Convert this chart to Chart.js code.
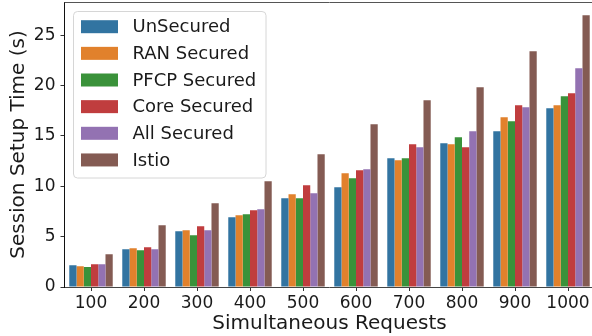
<!DOCTYPE html>
<html>
<head>
<meta charset="utf-8">
<script src="https://cdn.jsdelivr.net/npm/chart.js@4"></script>
<style>
  html, body { margin: 0; padding: 0; background: #fff; overflow: hidden; width: 592px; height: 336px; }
  #wrap { width: 600px; height: 336px; }
</style>
</head>
<body>
<div id="wrap"><canvas id="c" width="600" height="336"></canvas></div>
<script>
const categories = ['100', '200', '300', '400', '500', '600', '700', '800', '900', '1000'];
const unsecured   = [2.15, 3.74, 5.53, 6.92, 8.81, 9.90, 12.78, 14.27, 15.46, 17.74];
const ranSecured  = [2.05, 3.84, 5.63, 7.12, 9.20, 11.29, 12.58, 14.17, 16.85, 18.04];
const pfcpSecured = [1.99, 3.64, 5.13, 7.22, 8.81, 10.80, 12.78, 14.87, 16.46, 18.94];
const coreSecured = [2.25, 3.94, 6.03, 7.62, 10.10, 11.60, 14.17, 13.87, 18.04, 19.23];
const allSecured  = [2.25, 3.74, 5.63, 7.72, 9.30, 11.69, 13.87, 15.46, 17.84, 21.71];
const istio       = [3.25, 6.13, 8.31, 10.50, 13.18, 16.16, 18.54, 19.83, 23.41, 26.98];
const seriesNames = ['UnSecured', 'RAN Secured', 'PFCP Secured', 'Core Secured', 'All Secured', 'Istio'];
const yTicks = [0, 5, 10, 15, 20, 25];

const colors = ['#3274a1', '#e1812c', '#3a923a', '#c03d3e', '#9372b2', '#845b53'];
const seriesData = [unsecured, ranSecured, pfcpSecured, coreSecured, allSecured, istio];
const FONT = "'DejaVu Sans', sans-serif";

const datasets = seriesNames.map((name, i) => ({
  label: name,
  data: seriesData[i],
  backgroundColor: colors[i],
  borderWidth: 0,
  categoryPercentage: 0.82,
  barPercentage: 1.0
}));

const framePlugin = {
  id: 'frame',
  afterDraw(chart) {
    const ctx = chart.ctx;
    const a = chart.chartArea;
    ctx.save();
    // top spine
    ctx.strokeStyle = '#555';
    ctx.lineWidth = 1;
    ctx.beginPath();
    ctx.moveTo(a.left, a.top + 0.5);
    ctx.lineTo(a.right, a.top + 0.5);
    ctx.stroke();
    // legend frame
    const lx = 73.5, ly = 11.5, lw = 192.5, lh = 166.5, r = 4;
    ctx.beginPath();
    ctx.moveTo(lx + r, ly);
    ctx.lineTo(lx + lw - r, ly);
    ctx.quadraticCurveTo(lx + lw, ly, lx + lw, ly + r);
    ctx.lineTo(lx + lw, ly + lh - r);
    ctx.quadraticCurveTo(lx + lw, ly + lh, lx + lw - r, ly + lh);
    ctx.lineTo(lx + r, ly + lh);
    ctx.quadraticCurveTo(lx, ly + lh, lx, ly + lh - r);
    ctx.lineTo(lx, ly + r);
    ctx.quadraticCurveTo(lx, ly, lx + r, ly);
    ctx.closePath();
    ctx.fillStyle = 'rgba(255,255,255,0.8)';
    ctx.fill();
    ctx.strokeStyle = '#d6d6d6';
    ctx.stroke();
    // legend items
    ctx.font = '18px ' + FONT;
    ctx.textBaseline = 'middle';
    ctx.textAlign = 'left';
    chart.data.datasets.forEach((ds, i) => {
      const cy = 26.7 + i * 26.65;
      ctx.fillStyle = ds.backgroundColor;
      ctx.fillRect(81, cy - 6.5, 37, 13);
      ctx.fillStyle = '#1a1a1a';
      ctx.fillText(ds.label, 132.5, cy + 1);
    });
    ctx.restore();
  }
};

function noPad(scale) {
  scale.paddingTop = 0; scale.paddingBottom = 0;
  scale.paddingLeft = 0; scale.paddingRight = 0;
}

new Chart(document.getElementById('c'), {
  type: 'bar',
  data: { labels: categories, datasets },
  options: {
    responsive: false,
    animation: false,
    devicePixelRatio: 1,
    layout: { padding: { left: 0, right: 5.5, top: 2, bottom: 0 } },
    plugins: { legend: { display: false }, tooltip: { enabled: false } },
    scales: {
      x: {
        offset: true,
        grid: { drawOnChartArea: false, drawTicks: true, tickLength: 4, color: '#333', offset: false },
        border: { display: true, color: '#444', width: 1 },
        ticks: { color: '#1a1a1a', font: { family: FONT, size: 17 }, padding: 2, maxRotation: 0, autoSkip: false },
        title: { display: true, text: 'Simultaneous Requests', color: '#1a1a1a', font: { family: FONT, size: 20 }, padding: { top: 0, bottom: 0 } },
        afterFit(scale) { scale.height = 49; noPad(scale); }
      },
      y: {
        min: 0,
        max: 28.3,
        grid: { drawOnChartArea: false, drawTicks: true, tickLength: 4, color: '#333' },
        border: { display: true, color: '#111', width: 1 },
        ticks: { color: '#1a1a1a', font: { family: FONT, size: 17 }, padding: 5 },
        afterBuildTicks(scale) { scale.ticks = yTicks.map(v => ({ value: v })); },
        title: { display: true, text: 'Session Setup Time (s)', color: '#1a1a1a', font: { family: FONT, size: 20 }, padding: { top: 7, bottom: 0 } },
        afterFit(scale) { scale.width = 64.5; noPad(scale); }
      }
    }
  },
  plugins: [framePlugin]
});
</script>
</body>
</html>
